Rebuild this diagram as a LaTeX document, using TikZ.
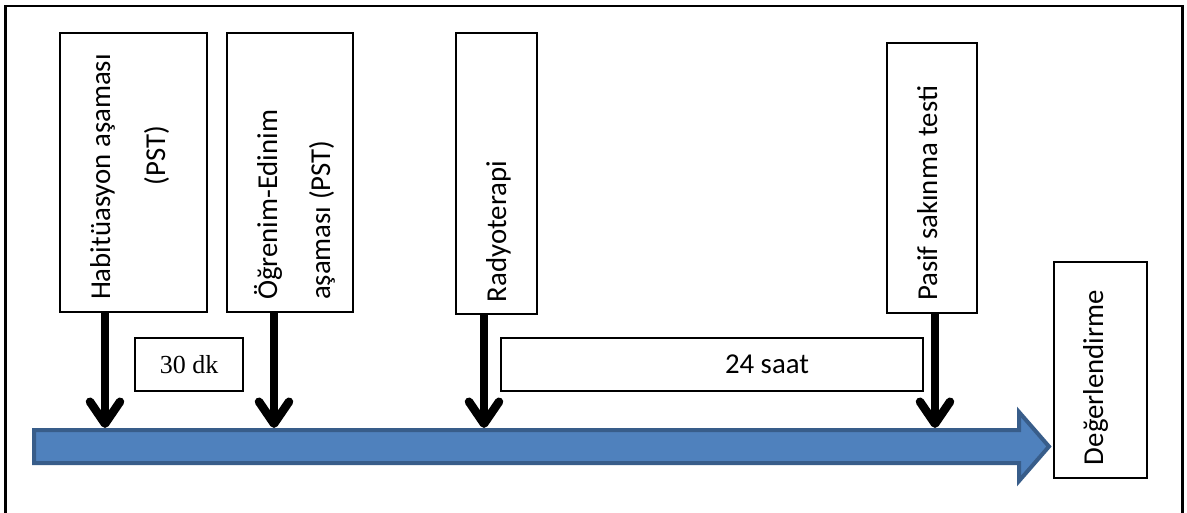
\documentclass[tikz,border=0pt]{standalone}
\usepackage{fontspec}
\setmainfont{Carlito}
\newfontfamily\timesfont{Liberation Serif}
\usetikzlibrary{arrows.meta}

\definecolor{barfill}{HTML}{4F81BD}
\definecolor{baredge}{HTML}{385D8A}

\begin{document}
\begin{tikzpicture}[x=1pt, y=-1pt,
  stage/.style={draw, line width=2pt, rotate=90, inner xsep=12pt, inner ysep=0pt,
                align=flush left, font=\fontsize{28.8}{55}\selectfont},
  span/.style={draw, line width=2pt, inner sep=0pt, minimum height=53pt},
  drop/.style={line width=8.5pt, -{Straight Barb[length=22pt,width=30pt,round]}},
  bar/.style={line width=4pt, draw=baredge, fill=barfill},
]
\useasboundingbox (0,0) rectangle (1187,513);

% outer frame (open at the bottom)
\draw[line width=2.7pt] (5.5,513) -- (5.5,6) -- (1182.5,6) -- (1182.5,513);

% stage boxes with vertical labels
\node[stage, minimum width=279pt, minimum height=147pt, text width=255pt,
      text height=20pt, text depth=67pt] (hab) at (133.5,172.5)
  {Habitüasyon aşaması\\\hspace*{115pt}(PST)};
\node[stage, minimum width=279pt, minimum height=126pt, text width=255pt,
      text height=20pt, text depth=46pt, font=\fontsize{28.8}{53}\selectfont] (ogr) at (290,172.5)
  {Öğrenim-Edinim\\aşaması (PST)};
\node[stage, minimum width=281pt, minimum height=81pt, text width=257pt,
      text height=22pt, text depth=3pt] (rad) at (496.5,173.5)
  {Radyoterapi};
\node[stage, minimum width=270pt, minimum height=90pt, text width=246pt,
      text height=18pt, text depth=8pt] (pst) at (932,178)
  {Pasif sakınma testi};
\node[stage, minimum width=216pt, minimum height=93pt, text width=190pt,
      text height=15pt, text depth=10pt] (deg) at (1100.5,370)
  {Değerlendirme};

% interval boxes
\node[span, minimum width=108pt, font=\timesfont\fontsize{26}{30}\selectfont] (dk) at (189,364.5) {30 dk};
\node[span, minimum width=422pt,
      label={[xshift=55pt, font=\fontsize{28.8}{34}\selectfont]center:24 saat}] (saat) at (712,364.5) {};

% time line
\draw[bar] (34,430) -- (1019,430) -- (1019,412) -- (1049,446.5) -- (1019,481)
  -- (1019,463) -- (34,463) -- cycle;
\coordinate (t1) at (105,428);
\coordinate (t2) at (274,428);
\coordinate (t3) at (484,428);
\coordinate (t4) at (935,428);

% events dropping onto the time line
\draw[drop] (hab.west -| t1) -- (t1);
\draw[drop] (ogr.west -| t2) -- (t2);
\draw[drop] (rad.west -| t3) -- (t3);
\draw[drop] (pst.west -| t4) -- (t4);
\end{tikzpicture}
\end{document}
